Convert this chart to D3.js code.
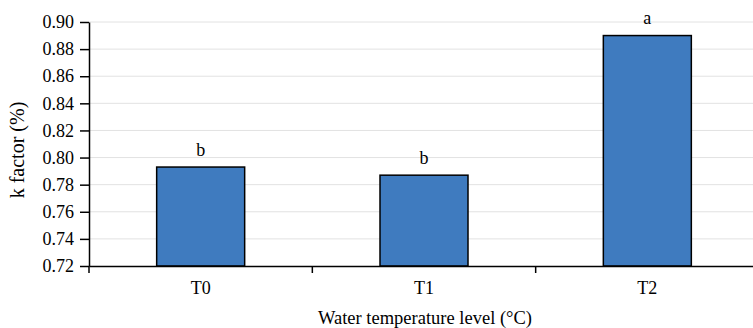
<html>
<head>
<meta charset="utf-8">
<script src="https://d3js.org/d3.v7.min.js"></script>
<style>
  body { margin: 0; background: #fff; }
  text { font-family: "Liberation Serif", "Times New Roman", serif; fill: #000; }
</style>
</head>
<body>
<svg id="chart" width="753" height="328"></svg>
<script>
// data
var categories = ["T0", "T1", "T2"];
var kFactor = [0.793, 0.787, 0.890];
var letters = ["b", "b", "a"];
var yTicks = [0.72, 0.74, 0.76, 0.78, 0.80, 0.82, 0.84, 0.86, 0.88, 0.90];

var svg = d3.select("#chart");
var mLeft = 89, mRight = 759, mTop = 22, mBottom = 266;

var xb = d3.scaleBand().domain(categories).range([mLeft, mRight]);
var y = d3.scaleLinear().domain([0.72, 0.90]).range([mBottom, mTop]);

// gridlines
svg.append("g").selectAll("line")
  .data(yTicks.slice(1))
  .enter().append("line")
    .attr("x1", mLeft).attr("x2", mRight)
    .attr("y1", d => y(d)).attr("y2", d => y(d))
    .attr("stroke", "#e2e2e2").attr("stroke-width", 1);

// bars
svg.append("g").selectAll("rect")
  .data(kFactor)
  .enter().append("rect")
    .attr("x", (d, i) => xb(categories[i]) + xb.bandwidth() / 2 - 44)
    .attr("width", 88)
    .attr("y", d => y(d))
    .attr("height", d => mBottom - y(d))
    .attr("fill", "#3f7bbf")
    .attr("stroke", "#000")
    .attr("stroke-width", 1.5);

// letters over bars
svg.append("g").selectAll("text")
  .data(kFactor)
  .enter().append("text")
    .attr("x", (d, i) => xb(categories[i]) + xb.bandwidth() / 2)
    .attr("y", d => y(d) - 11.5)
    .attr("text-anchor", "middle")
    .style("font-size", "18px")
    .text((d, i) => letters[i]);

// y axis
var yAxis = svg.append("g")
  .attr("transform", "translate(" + mLeft + ",0)")
  .call(d3.axisLeft(y).tickValues(yTicks).tickFormat(d3.format(".2f")).tickSize(9).tickSizeOuter(0));
yAxis.selectAll("text").style("font-size", "18px").attr("x", -15);
yAxis.selectAll("line, path").attr("stroke", "#000").attr("stroke-width", 1.5);

// x axis
var xAxis = svg.append("g")
  .attr("transform", "translate(0," + mBottom + ")")
  .call(d3.axisBottom(xb).tickSize(0).tickSizeOuter(0));
xAxis.selectAll("text").style("font-size", "18px").attr("y", 28).attr("dy", null);
xAxis.select("path").attr("stroke", "#000").attr("stroke-width", 1.5);

// category boundary ticks
svg.append("g").selectAll("line")
  .data(categories.concat(["end"]))
  .enter().append("line")
    .attr("x1", (d, i) => mLeft + i * xb.bandwidth())
    .attr("x2", (d, i) => mLeft + i * xb.bandwidth())
    .attr("y1", mBottom).attr("y2", mBottom + 7)
    .attr("stroke", "#000").attr("stroke-width", 1.5);

// axis titles
svg.append("text")
  .attr("x", 425)
  .attr("y", 324)
  .attr("text-anchor", "middle")
  .style("font-size", "18.5px")
  .text("Water temperature level (°C)");

svg.append("text")
  .attr("transform", "translate(24,150) rotate(-90)")
  .attr("text-anchor", "middle")
  .style("font-size", "20px")
  .text("k factor (%)");
</script>
</body>
</html>
